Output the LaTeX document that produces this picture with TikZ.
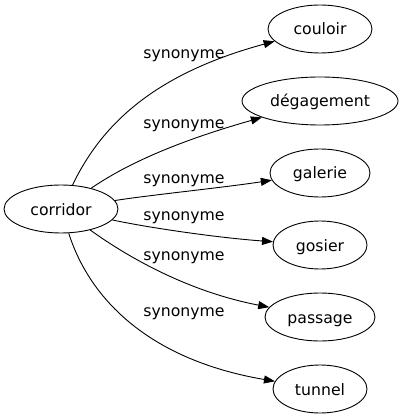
\documentclass[tikz,border=0pt]{standalone}
\usepackage{fontspec}
\setmainfont{DejaVu Sans}
\usetikzlibrary{arrows.meta,shapes.geometric}
\begin{document}
\begin{tikzpicture}[x=1pt,y=-1pt,
  every node/.style={font=\fontsize{15.7}{18}\selectfont},
  word/.style={draw, ellipse, line width=0.9pt, inner sep=0pt, minimum height=48pt, text height=14pt, text depth=2pt},
  rel/.style={draw, line width=0.9pt, -{Triangle[length=11pt,width=8pt]}},
  lab/.style={anchor=base}]
\useasboundingbox (0,0) rectangle (403,419);
\node[word, minimum width=114pt] (corridor) at (61,209) {corridor};
\node[word, minimum width=104pt] (couloir) at (320,29) {couloir};
\node[word, minimum width=156pt] (degagement) at (320,101) {dégagement};
\node[word, minimum width=100pt] (galerie) at (320,173) {galerie};
\node[word, minimum width=94pt] (gosier) at (320,245) {gosier};
\node[word, minimum width=110pt] (passage) at (320,317) {passage};
\node[word, minimum width=94pt] (tunnel) at (320,389) {tunnel};
\draw[rel] (corridor) .. controls (100,128) and (150,75) .. (couloir);
\draw[rel] (corridor) .. controls (125,165) and (175,142) .. (degagement);
\draw[rel] (corridor) .. controls (150,195) and (220,188) .. (galerie);
\draw[rel] (corridor) .. controls (150,228) and (220,238) .. (gosier);
\draw[rel] (corridor) .. controls (118,250) and (180,290) .. (passage);
\draw[rel] (corridor) .. controls (90,300) and (150,360) .. (tunnel);
\node[lab] (l1) at (184,58.3) {synonyme};
\node[lab] (l2) at (184,128.3) {synonyme};
\node[lab] (l3) at (184,184) {synonyme};
\node[lab] (l4) at (184,220) {synonyme};
\node[lab] (l5) at (184,260) {synonyme};
\node[lab] (l6) at (184,316.7) {synonyme};
\end{tikzpicture}
\end{document}
